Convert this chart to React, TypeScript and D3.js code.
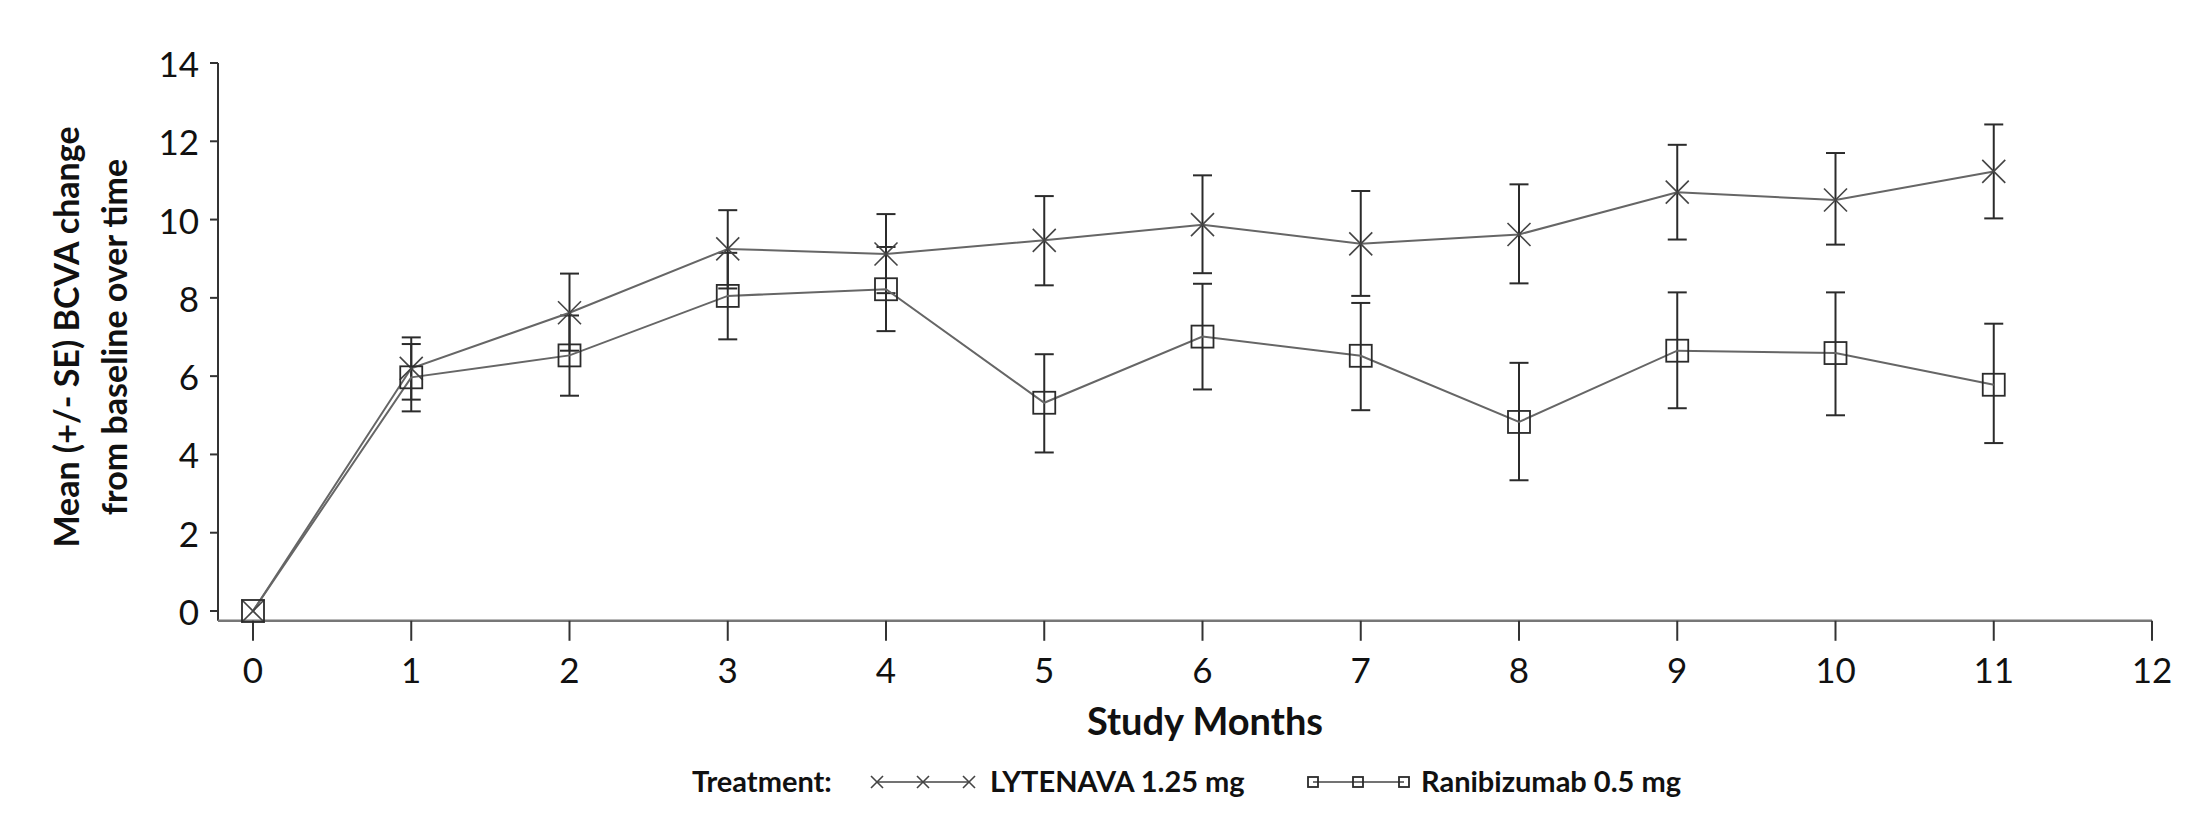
import * as d3 from "d3";

// study months (x categories)
const months = [0, 1, 2, 3, 4, 5, 6, 7, 8, 9, 10, 11];

// LYTENAVA 1.25 mg: mean change and SE limits
const lytMean = [0, 6.2, 7.62, 9.25, 9.12, 9.47, 9.87, 9.38, 9.62, 10.7, 10.5, 11.23];
const lytLow = [0, 5.4, 6.65, 8.24, 8.12, 8.32, 8.63, 8.05, 8.37, 9.49, 9.36, 10.03];
const lytHigh = [0, 6.99, 8.62, 10.24, 10.14, 10.6, 11.13, 10.73, 10.9, 11.91, 11.7, 12.43];

// Ranibizumab 0.5 mg: mean change and SE limits
const ranMean = [0, 5.97, 6.53, 8.05, 8.22, 5.32, 7.01, 6.52, 4.83, 6.65, 6.59, 5.78];
const ranLow = [0, 5.1, 5.5, 6.94, 7.15, 4.05, 5.66, 5.13, 3.34, 5.18, 5.0, 4.29];
const ranHigh = [0, 6.82, 7.55, 9.15, 9.3, 6.56, 8.36, 7.87, 6.34, 8.14, 8.14, 7.34];

const xTicks = [0, 1, 2, 3, 4, 5, 6, 7, 8, 9, 10, 11, 12];
const yTicks = [0, 2, 4, 6, 8, 10, 12, 14];

const FONT = "Lato, 'Open Sans', sans-serif";

export default function App() {
  const width = 2202;
  const height = 828;

  const x = d3.scaleLinear().domain([0, 12]).range([253, 2152]);
  const y = d3.scaleLinear().domain([0, 14]).range([611, 63]);

  const axisX = 218;
  const axisY = y(-0.25);

  const line = d3
    .line<number>()
    .x((_, i) => x(months[i]))
    .y((d) => y(d));

  const capW = 9.5;
  const xr = 11.5; // half size of X marker
  const sq = 11; // half size of square marker

  const errorBars = (low: number[], high: number[], key: string) =>
    months.map((m, i) => {
      if (low[i] === high[i]) return null;
      const cx = x(m);
      return (
        <g key={key + i} stroke="#2b2b2b" strokeWidth={2}>
          <line x1={cx} x2={cx} y1={y(low[i])} y2={y(high[i])} />
          <line x1={cx - capW} x2={cx + capW} y1={y(low[i])} y2={y(low[i])} />
          <line x1={cx - capW} x2={cx + capW} y1={y(high[i])} y2={y(high[i])} />
        </g>
      );
    });

  const xMark = (cx: number, cy: number, r: number, k: string) => (
    <g key={k} stroke="#444" strokeWidth={1.6}>
      <line x1={cx - r} x2={cx + r} y1={cy - r} y2={cy + r} />
      <line x1={cx - r} x2={cx + r} y1={cy + r} y2={cy - r} />
    </g>
  );

  const sqMark = (cx: number, cy: number, r: number, k: string) => (
    <rect
      key={k}
      x={cx - r}
      y={cy - r}
      width={2 * r}
      height={2 * r}
      fill="#fff"
      fillOpacity={0}
      stroke="#2b2b2b"
      strokeWidth={1.8}
    />
  );

  return (
    <svg
      width={width}
      height={height}
      style={{ position: "absolute", left: 0, top: 0, background: "#fff" }}
      fontFamily={FONT}
    >
      {/* y axis */}
      <line x1={axisX} x2={axisX} y1={y(14)} y2={axisY} stroke="#333" strokeWidth={2} />
      {yTicks.map((t) => (
        <g key={"yt" + t}>
          <line x1={axisX - 8} x2={axisX} y1={y(t)} y2={y(t)} stroke="#333" strokeWidth={2} />
          <text
            x={199}
            y={y(t)}
            textAnchor="end"
            dominantBaseline="central"
            fontSize={35}
            fill="#111"
          >
            {t}
          </text>
        </g>
      ))}

      {/* x axis */}
      <line x1={axisX} x2={x(12)} y1={axisY} y2={axisY} stroke="#777" strokeWidth={2.5} />
      {xTicks.map((t) => (
        <g key={"xt" + t}>
          <line x1={x(t)} x2={x(t)} y1={axisY} y2={axisY + 20} stroke="#333" strokeWidth={2} />
          <text x={x(t)} y={axisY + 62} textAnchor="middle" fontSize={35} fill="#111">
            {t}
          </text>
        </g>
      ))}

      {/* axis titles */}
      <text x={1205} y={735} textAnchor="middle" fontSize={38} fontWeight="bold" fill="#111">
        Study Months
      </text>
      <g transform={`translate(0, 337) rotate(-90)`}>
        <text x={0} y={79} textAnchor="middle" fontSize={34} fontWeight="bold" fill="#111">
          Mean (+/- SE) BCVA change
        </text>
        <text x={0} y={127} textAnchor="middle" fontSize={34} fontWeight="bold" fill="#111">
          from baseline over time
        </text>
      </g>

      {/* error bars */}
      {errorBars(lytLow, lytHigh, "le")}
      {errorBars(ranLow, ranHigh, "re")}

      {/* series lines */}
      <path d={line(lytMean) ?? ""} fill="none" stroke="#666" strokeWidth={2} />
      <path d={line(ranMean) ?? ""} fill="none" stroke="#666" strokeWidth={2} />

      {/* markers */}
      {lytMean.map((v, i) => xMark(x(months[i]), y(v), xr, "lm" + i))}
      {ranMean.map((v, i) => sqMark(x(months[i]), y(v), sq, "rm" + i))}

      {/* legend */}
      <g fontSize={29} fontWeight="bold" fill="#111">
        <text x={692} y={792}>Treatment:</text>
        <line x1={877} x2={969} y1={782} y2={782} stroke="#444" strokeWidth={1.6} />
        {[877, 923, 969].map((cx, i) => xMark(cx, 782, 6, "lgx" + i))}
        <text x={990} y={792}>LYTENAVA 1.25 mg</text>
        <line x1={1313} x2={1404} y1={782} y2={782} stroke="#444" strokeWidth={1.6} />
        {[1313, 1358, 1404].map((cx, i) => sqMark(cx, 782, 5, "lgs" + i))}
        <text x={1421} y={792}>Ranibizumab 0.5 mg</text>
      </g>
    </svg>
  );
}
